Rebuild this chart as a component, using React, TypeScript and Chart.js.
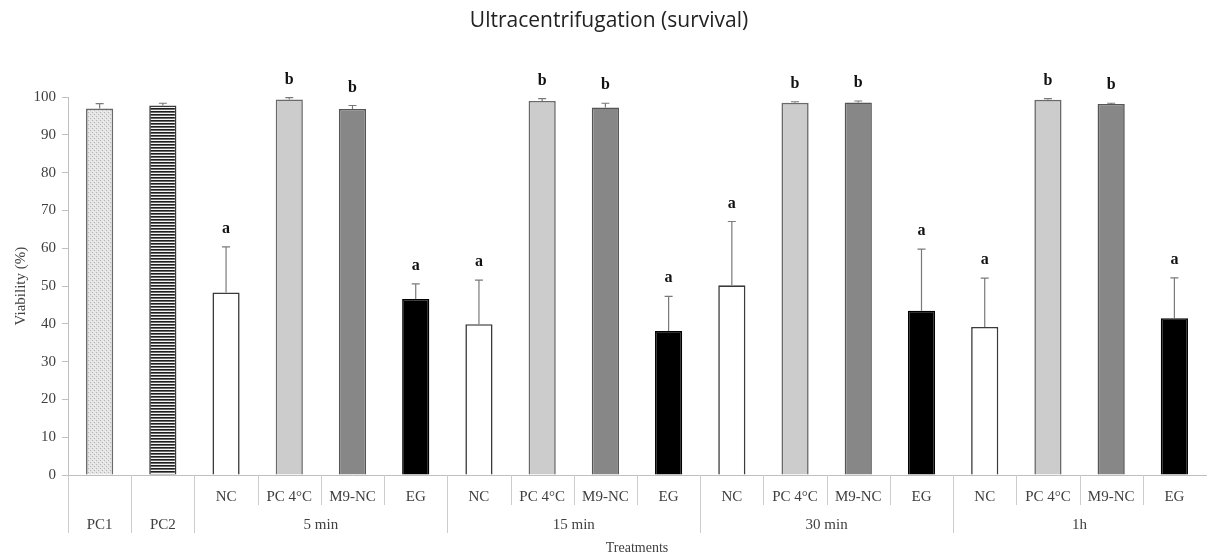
import React, { useEffect, useRef } from "react";
import { Chart, registerables } from "chart.js";

Chart.register(...registerables);

const categories = [
  "PC1", "PC2",
  "NC", "PC 4°C", "M9-NC", "EG",
  "NC", "PC 4°C", "M9-NC", "EG",
  "NC", "PC 4°C", "M9-NC", "EG",
  "NC", "PC 4°C", "M9-NC", "EG",
];
const subLabels = [
  "", "",
  "NC", "PC 4°C", "M9-NC", "EG",
  "NC", "PC 4°C", "M9-NC", "EG",
  "NC", "PC 4°C", "M9-NC", "EG",
  "NC", "PC 4°C", "M9-NC", "EG",
];
const groupLabels = ["PC1", "PC2", "5 min", "15 min", "30 min", "1h"];
const groupSpans = [1, 1, 4, 4, 4, 4];

const viability = [
  97.0, 97.8,
  48.3, 99.4, 96.9, 46.6,
  39.9, 99.0, 97.3, 38.1,
  50.2, 98.5, 98.6, 43.5,
  39.2, 99.3, 98.2, 41.5,
];
const sd = [
  1.3, 0.6,
  12.1, 0.5, 0.9, 4.0,
  11.7, 0.6, 1.1, 9.2,
  16.9, 0.3, 0.4, 16.3,
  12.9, 0.3, 0.2, 10.7,
];
const letters = [
  "", "",
  "a", "b", "b", "a",
  "a", "b", "b", "a",
  "a", "b", "b", "a",
  "a", "b", "b", "a",
];
const yTicks = [0, 10, 20, 30, 40, 50, 60, 70, 80, 90, 100];

const SERIF = "'Liberation Serif', 'Times New Roman', serif";

function makePattern(kind: string): CanvasPattern | string {
  const c = document.createElement("canvas");
  const ctx = c.getContext("2d");
  if (!ctx) return "#ddd";
  if (kind === "dots") {
    c.width = 4; c.height = 4;
    ctx.fillStyle = "#e4e4e4";
    ctx.fillRect(0, 0, 4, 4);
    ctx.fillStyle = "#b5b5b5";
    ctx.fillRect(0, 0, 1, 1);
    ctx.fillRect(2, 2, 1, 1);
    ctx.fillStyle = "#f2f2f2";
    ctx.fillRect(1, 3, 1, 1);
    ctx.fillRect(3, 1, 1, 1);
  } else {
    c.width = 4; c.height = 3;
    ctx.fillStyle = "#1e1e1e";
    ctx.fillRect(0, 0, 4, 1);
    ctx.fillStyle = "#6a6a6a";
    ctx.fillRect(0, 1, 4, 1);
    ctx.fillStyle = "#f4f4f4";
    ctx.fillRect(0, 2, 4, 1);
  }
  return ctx.createPattern(c, "repeat") || "#ddd";
}

export default function App() {
  const ref = useRef<HTMLCanvasElement | null>(null);

  useEffect(() => {
    document.body.style.margin = "0";
    const canvas = ref.current;
    if (!canvas) return;

    const pc1 = makePattern("dots");
    const pc2 = makePattern("stripes");
    const fillFor = (name: string, i: number) => {
      if (i === 0) return pc1;
      if (i === 1) return pc2;
      if (name === "NC") return "#ffffff";
      if (name === "PC 4°C") return "#cccccc";
      if (name === "M9-NC") return "#878787";
      return "#000000";
    };
    const borderFor = (name: string, i: number) => {
      if (i === 0) return "#6a6a6a";
      if (i === 1) return "#3a3a3a";
      if (name === "NC") return "#3a3a3a";
      if (name === "PC 4°C") return "#6a6a6a";
      if (name === "M9-NC") return "#555555";
      return "#000000";
    };

    const errorAndLetters = {
      id: "errorAndLetters",
      afterDatasetsDraw(chart: any) {
        const ctx = chart.ctx;
        const meta = chart.getDatasetMeta(0);
        const y = chart.scales.y;
        ctx.save();
        meta.data.forEach((bar: any, i: number) => {
          const x = bar.x;
          const yBar = y.getPixelForValue(viability[i]);
          const yTop = y.getPixelForValue(viability[i] + sd[i]);
          ctx.strokeStyle = "#7a7a7a";
          ctx.lineWidth = 1.2;
          ctx.beginPath();
          ctx.moveTo(x, yBar);
          ctx.lineTo(x, yTop);
          ctx.moveTo(x - 4, yTop);
          ctx.lineTo(x + 4, yTop);
          ctx.stroke();
          if (letters[i]) {
            ctx.fillStyle = "#111";
            ctx.font = `bold 16px ${SERIF}`;
            ctx.textAlign = "center";
            ctx.textBaseline = "middle";
            ctx.fillText(letters[i], x, yTop - 18);
          }
        });
        ctx.restore();
      },
    };

    const xAxisLabels = {
      id: "xAxisLabels",
      afterDraw(chart: any) {
        const ctx = chart.ctx;
        const xs = chart.scales.x;
        const area = chart.chartArea;
        const bottom = area.bottom;
        const w = xs.getPixelForValue(1) - xs.getPixelForValue(0);
        ctx.save();
        ctx.fillStyle = "#404040";
        ctx.font = `15px ${SERIF}`;
        ctx.textAlign = "center";
        ctx.textBaseline = "middle";
        subLabels.forEach((s, i) => {
          if (s) ctx.fillText(s, xs.getPixelForValue(i), bottom + 22);
        });
        const groupStarts = new Set<number>();
        let start = 0;
        groupLabels.forEach((g, gi) => {
          groupStarts.add(start);
          const span = groupSpans[gi];
          const x0 = xs.getPixelForValue(start) - w / 2;
          const x1 = xs.getPixelForValue(start + span - 1) + w / 2;
          ctx.fillText(g, (x0 + x1) / 2, bottom + 50);
          start += span;
        });
        ctx.strokeStyle = "#cccccc";
        ctx.lineWidth = 1;
        categories.forEach((_, i) => {
          const xb = Math.round(xs.getPixelForValue(i) - w / 2) + 0.5;
          const len = groupStarts.has(i) ? 58 : 30;
          ctx.beginPath();
          ctx.moveTo(xb, bottom);
          ctx.lineTo(xb, bottom + len);
          ctx.stroke();
        });
        ctx.fillStyle = "#404040";
        ctx.font = `14px ${SERIF}`;
        ctx.fillText("Treatments", (area.left + area.right) / 2, bottom + 73);
        ctx.restore();
      },
    };

    const chart = new Chart(canvas, {
      type: "bar",
      data: {
        labels: categories,
        datasets: [
          {
            label: "Viability",
            data: viability,
            backgroundColor: categories.map((c, i) => fillFor(c, i)) as any,
            borderColor: categories.map((c, i) => borderFor(c, i)),
            borderWidth: 1.6,
            barPercentage: 0.43,
            categoryPercentage: 1,
          },
        ],
      },
      options: {
        responsive: false,
        animation: false,
        devicePixelRatio: 1,
        layout: { padding: { left: 12, right: 2, top: 0, bottom: 0 } },
        plugins: {
          legend: { display: false },
          tooltip: { enabled: false },
          title: {
            display: true,
            text: "Ultracentrifugation (survival)",
            color: "#222222",
            font: { family: "'Open Sans', sans-serif", size: 21, weight: "normal", lineHeight: 1.2 },
            padding: { top: 8, bottom: 64 },
          },
        },
        scales: {
          x: {
            type: "category",
            grid: { display: false },
            ticks: { display: false },
            border: { display: true, color: "#bfbfbf", width: 1 },
            afterFit(scale: any) {
              scale.height = 81;
            },
          },
          y: {
            min: 0,
            max: 100,
            afterBuildTicks(scale: any) {
              scale.ticks = yTicks.map((v) => ({ value: v }));
            },
            ticks: {
              color: "#404040",
              font: { family: SERIF, size: 15 },
              padding: 6,
            },
            grid: {
              display: true,
              drawOnChartArea: false,
              drawTicks: true,
              tickLength: 6,
              color: "#bfbfbf",
            },
            border: { display: true, color: "#bfbfbf", width: 1 },
            title: {
              display: true,
              text: "Viability (%)",
              color: "#404040",
              font: { family: SERIF, size: 15 },
              padding: { top: 0, bottom: 0 },
            },
            afterFit(scale: any) {
              scale.width = 56;
            },
          },
        },
      },
      plugins: [errorAndLetters, xAxisLabels],
    });

    return () => chart.destroy();
  }, []);

  return (
    <div style={{ width: 1208, height: 556, overflow: "hidden" }}>
      <canvas ref={ref} width={1208} height={556} style={{ display: "block" }} />
    </div>
  );
}
